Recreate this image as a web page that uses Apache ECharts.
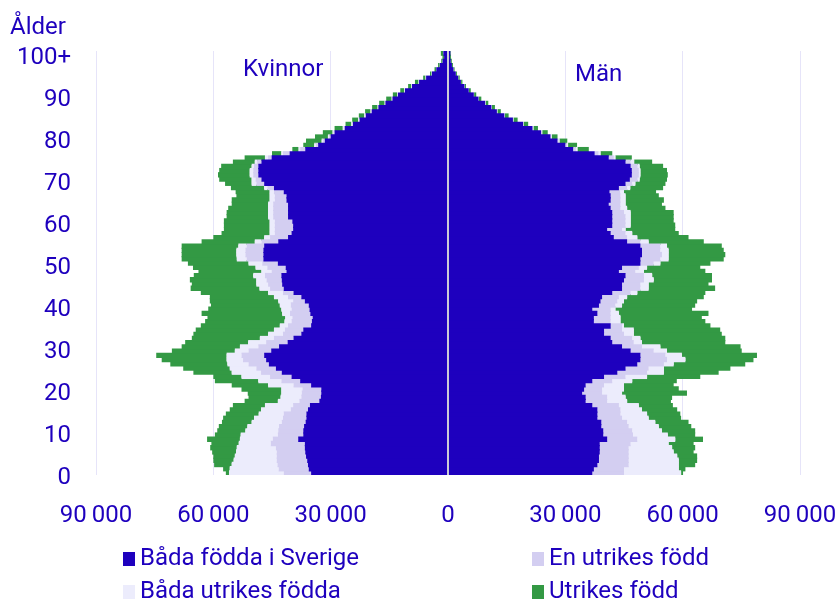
<!DOCTYPE html>
<html>
<head>
<meta charset="utf-8">
<title>Befolkningspyramid</title>
<script src="https://cdn.jsdelivr.net/npm/echarts@6/dist/echarts.min.js"></script>
<style>
  html, body { margin: 0; padding: 0; background: #fff; }
  #chart { width: 840px; height: 601px; }
</style>
</head>
<body>
<div id="chart"></div>
<script>
// age groups, bottom to top
const ages = [
  "0", "1", "2", "3", "4", "5", "6", "7", "8", "9",
  "10", "11", "12", "13", "14", "15", "16", "17", "18", "19",
  "20", "21", "22", "23", "24", "25", "26", "27", "28", "29",
  "30", "31", "32", "33", "34", "35", "36", "37", "38", "39",
  "40", "41", "42", "43", "44", "45", "46", "47", "48", "49",
  "50", "51", "52", "53", "54", "55", "56", "57", "58", "59",
  "60", "61", "62", "63", "64", "65", "66", "67", "68", "69",
  "70", "71", "72", "73", "74", "75", "76", "77", "78", "79",
  "80", "81", "82", "83", "84", "85", "86", "87", "88", "89",
  "90", "91", "92", "93", "94", "95", "96", "97", "98", "99", "100+"
];

const seriesNames = ["Båda födda i Sverige", "En utrikes född", "Båda utrikes födda", "Utrikes född"];

// Kvinnor
const womenSweden = [
  35000, 35600, 35800, 36000, 36300, 36500, 36600, 36600, 38300, 37000,
  37000, 36800, 36400, 36200, 36200, 35800, 35300, 32900, 32500, 32400,
  32400, 35000, 37800, 40000, 42500, 44000, 45800, 46500, 47000, 45200,
  43200, 41000, 39500, 37500, 37000, 35000, 34800, 34600, 35200, 35400,
  35600, 36600, 37500, 39500, 42000, 42400, 42500, 42600, 41300, 41500,
  43500, 47200, 47200, 47200, 47000, 43400, 40900, 40000, 39600, 39600,
  39800, 40900, 40900, 40900, 40900, 41300, 41300, 42000, 44500, 47000,
  47700, 48500, 48500, 48500, 47700, 45100, 40500, 36500, 33200, 31500,
  30000, 29000, 26400, 24300, 22600, 21000, 19500, 17800, 16000, 14200,
  12800, 11000, 9200, 7400, 5600, 4100, 3000, 2100, 1400, 1000, 1200
];
const womenOneForeign = [
  7000, 7700, 7800, 7800, 7500, 7300, 7400, 8700, 6500, 6500,
  6400, 6400, 6100, 6000, 5800, 4400, 4300, 5100, 5000, 5000,
  4800, 4500, 4800, 5500, 5300, 5000, 5200, 5900, 5800, 5800,
  5300, 5500, 5000, 4700, 4700, 5900, 5200, 5200, 5200, 4600,
  4600, 3000, 3400, 2700, 3500, 3600, 3900, 4200, 3800, 4700,
  4000, 4300, 4600, 4600, 4500, 4300, 4600, 4300, 4700, 4700,
  4500, 3800, 3800, 3800, 3800, 3000, 3000, 2500, 1700, 2000,
  1500, 1300, 1300, 1100, 1100, 900, 1700, 1300, 600, 500,
  400, 300, 300, 200, 200, 200, 200, 100, 100, 100,
  100, 100, 100, 100, 100, 50, 30, 20, 20, 10, 20
];
const womenBothForeign = [
  14000, 12500, 11700, 11000, 10700, 10400, 10000, 8200, 8400, 9500,
  8400, 8100, 7700, 7400, 6400, 7600, 7200, 5500, 5300, 5200,
  5400, 6500, 5900, 7300, 7500, 6800, 5400, 4200, 3800, 3500,
  4700, 4600, 3600, 3800, 2800, 2100, 1800, 1800, 2000, 2600,
  2800, 3800, 3600, 3800, 2700, 3000, 2600, 3000, 2600, 3000,
  3500, 2500, 2300, 2300, 2100, 1700, 1500, 1300, 1300, 1300,
  1300, 1300, 1300, 1300, 1300, 1300, 1300, 1100, 800, 1200,
  1000, 900, 900, 600, 600, 800, 400, 400, 400, 300,
  300, 200, 200, 200, 200, 200, 100, 100, 100, 100,
  100, 100, 100, 50, 50, 50, 20, 20, 10, 10, 10
];
const womenForeignBorn = [
  800, 1700, 4500, 5200, 5500, 6100, 6800, 7000, 8400, 6600,
  7200, 7300, 7600, 7900, 8400, 8000, 8200, 8500, 8200, 8600,
  10200, 9300, 11100, 7200, 9800, 11900, 14600, 16600, 18000, 16100,
  14900, 16100, 17400, 19100, 20000, 20200, 20300, 19900, 20600, 18700,
  17600, 17500, 16400, 17200, 17600, 16500, 17000, 15200, 16100, 16000,
  15500, 14100, 14000, 14000, 14500, 13600, 13000, 12300, 11700, 11700,
  11700, 10600, 10600, 10200, 9300, 9700, 8500, 8700, 8500, 6800,
  8300, 8100, 7800, 7800, 5600, 5200, 2400, 1600, 2800, 4000,
  3300, 2500, 2100, 1500, 1500, 1400, 1400, 1400, 1400, 1400,
  1100, 1000, 800, 900, 600, 400, 400, 400, 300, 400, 600
];

// Män
const menSweden = [
  36900, 37300, 38200, 38600, 38600, 38800, 38800, 38800, 40700, 39700,
  39700, 39200, 39200, 38200, 38200, 38200, 36900, 35200, 35200, 34300,
  34800, 35200, 36900, 39900, 43300, 45400, 48400, 49200, 49200, 46700,
  44500, 42000, 41600, 39900, 39900, 41600, 37300, 37300, 38200, 36900,
  38600, 39000, 39400, 42000, 44500, 44500, 45000, 45400, 43700, 44500,
  49200, 49200, 49600, 49600, 49200, 45800, 42400, 41600, 40700, 42000,
  42000, 42000, 42000, 41600, 41100, 41600, 41600, 41300, 43700, 45400,
  46500, 47000, 47000, 46700, 45400, 41100, 37500, 32000, 30000, 28000,
  26200, 23800, 21600, 19200, 16600, 14400, 12500, 11100, 9500, 7800,
  6600, 5300, 4200, 3300, 2600, 2000, 1400, 1000, 700, 500, 600
];
const menOneForeign = [
  8100, 7700, 8000, 7600, 7600, 7400, 7400, 7900, 7700, 7600,
  7400, 7000, 6600, 6300, 5900, 5900, 6800, 5500, 5500, 5100,
  4600, 4700, 5100, 5500, 7600, 5900, 6800, 6800, 6400, 5900,
  5100, 5500, 5500, 5100, 4600, 2900, 4300, 4300, 3400, 4700,
  4200, 4300, 4300, 4700, 4700, 4700, 5100, 4700, 4200, 4300,
  3400, 5100, 5100, 4700, 5100, 3400, 3400, 3800, 3800, 3400,
  3400, 3400, 3000, 2500, 3000, 2500, 2500, 2700, 2100, 1700,
  2000, 1800, 1800, 1800, 1300, 1300, 1000, 700, 400, 300,
  200, 200, 150, 100, 100, 100, 100, 100, 100, 50,
  50, 50, 30, 30, 30, 20, 20, 10, 10, 10, 10
];
const menBothForeign = [
  14600, 14000, 12800, 12800, 12400, 11500, 11100, 9700, 9700, 8900,
  7600, 7700, 7200, 6800, 6800, 5500, 5100, 5100, 4700, 5100,
  5600, 5100, 5100, 5500, 4300, 3900, 2500, 4700, 4200, 3400,
  4700, 2100, 2100, 2500, 3000, 500, 2500, 2500, 2100, 1200,
  1700, 1700, 2100, 1700, 2100, 2100, 2500, 2100, 2200, 2100,
  1700, 2100, 1700, 2100, 1700, 2100, 2600, 1700, 900, 1300,
  1300, 1300, 1700, 1700, 1300, 1300, 1300, 1000, 800, 800,
  500, 400, 400, 500, 900, 400, 500, 400, 300, 200,
  150, 100, 100, 50, 50, 50, 50, 50, 50, 20,
  20, 20, 20, 10, 10, 10, 10, 10, 10, 10, 10
];
const menForeignBorn = [
  500, 1700, 4200, 4700, 5100, 5100, 5900, 6400, 7100, 7000,
  8500, 8300, 8500, 8300, 8500, 9000, 8700, 11200, 11900, 16600,
  14000, 12700, 11400, 13600, 14000, 17000, 18300, 17400, 19200, 19100,
  20500, 21300, 21700, 22500, 22100, 22100, 21700, 20800, 22900, 19600,
  18700, 18700, 19600, 17400, 17000, 15300, 14900, 15300, 15700, 13600,
  12800, 14100, 14500, 14100, 14000, 14100, 13100, 11900, 12700, 11400,
  11000, 11000, 11000, 9800, 9300, 9800, 8500, 8200, 8400, 7700,
  7000, 7000, 6800, 6000, 4600, 4200, 3000, 2900, 2300, 2000,
  1450, 1400, 1150, 1150, 1050, 950, 850, 750, 650, 650,
  550, 450, 350, 350, 350, 250, 250, 250, 250, 250, 150
];

const textColor = "#1e00be";
const barColors = ["#1e00be", "#d3cef1", "#ececfc", "#339944"];

const women = [womenSweden, womenOneForeign, womenBothForeign, womenForeignBorn];
const men = [menSweden, menOneForeign, menBothForeign, menForeignBorn];

function fmt(v) {
  return String(Math.abs(v)).replace(/\B(?=(\d{3})+(?!\d))/g, "\u2009");
}

const series = [];
seriesNames.forEach((name, i) => {
  // bars a little taller than the band so neighbouring ages overlap (no seams);
  // inner groups drawn on top of the outer ones
  const common = {
    name: name,
    type: "bar",
    itemStyle: { color: barColors[i] },
    barWidth: 5.4,
    barGap: "-100%",
    z: 6 - i,
    silent: true
  };
  series.push(Object.assign({}, common, { stack: "kvinnor", data: women[i].map(v => -v) }));
  series.push(Object.assign({}, common, { stack: "man", data: men[i] }));
});

// centre line at 0, drawn over the bars
series.push({
  type: "line",
  data: [],
  silent: true,
  z: 10,
  markLine: {
    silent: true,
    symbol: "none",
    z: 10,
    label: { show: false },
    lineStyle: { color: "#cbcbd6", width: 2, type: "solid" },
    data: [{ xAxis: 0 }]
  }
});

function legendAt(name, left, top) {
  return {
    data: [name],
    left: left,
    top: top,
    padding: 0,
    icon: "rect",
    itemWidth: 12,
    itemHeight: 14,
    selectedMode: false,
    textStyle: { color: textColor, fontSize: 24, fontFamily: "Roboto", lineHeight: 24 }
  };
}

const chart = echarts.init(document.getElementById("chart"));
chart.setOption({
  animation: false,
  textStyle: { fontFamily: "Roboto" },
  grid: { left: 96, right: 40, top: 51, bottom: 126 },
  legend: [
    legendAt(seriesNames[0], 123, 547),
    legendAt(seriesNames[1], 532, 547),
    legendAt(seriesNames[2], 123, 580),
    legendAt(seriesNames[3], 532, 580)
  ],
  xAxis: {
    type: "value",
    min: -90000,
    max: 90000,
    interval: 30000,
    axisLine: { show: false },
    axisTick: { show: false },
    splitLine: { lineStyle: { color: "#e6e4f9", width: 1 } },
    axisLabel: {
      color: textColor,
      fontSize: 24,
      lineHeight: 24,
      margin: 29,
      formatter: fmt
    }
  },
  yAxis: {
    type: "category",
    data: ages,
    axisLine: { show: false },
    axisTick: { show: false },
    axisLabel: {
      interval: 9,
      color: textColor,
      fontSize: 24,
      verticalAlign: "top",
      lineHeight: 10,
      margin: 25
    }
  },
  graphic: [
    { type: "text", x: 10, y: 28, style: { text: "Ålder", fill: textColor, font: "24px Roboto", verticalAlign: "middle" } },
    { type: "text", x: 243, y: 70, style: { text: "Kvinnor", fill: textColor, font: "24px Roboto", verticalAlign: "middle" } },
    { type: "text", x: 575, y: 75, style: { text: "Män", fill: textColor, font: "24px Roboto", verticalAlign: "middle" } }
  ],
  series: series
});
</script>
</body>
</html>
